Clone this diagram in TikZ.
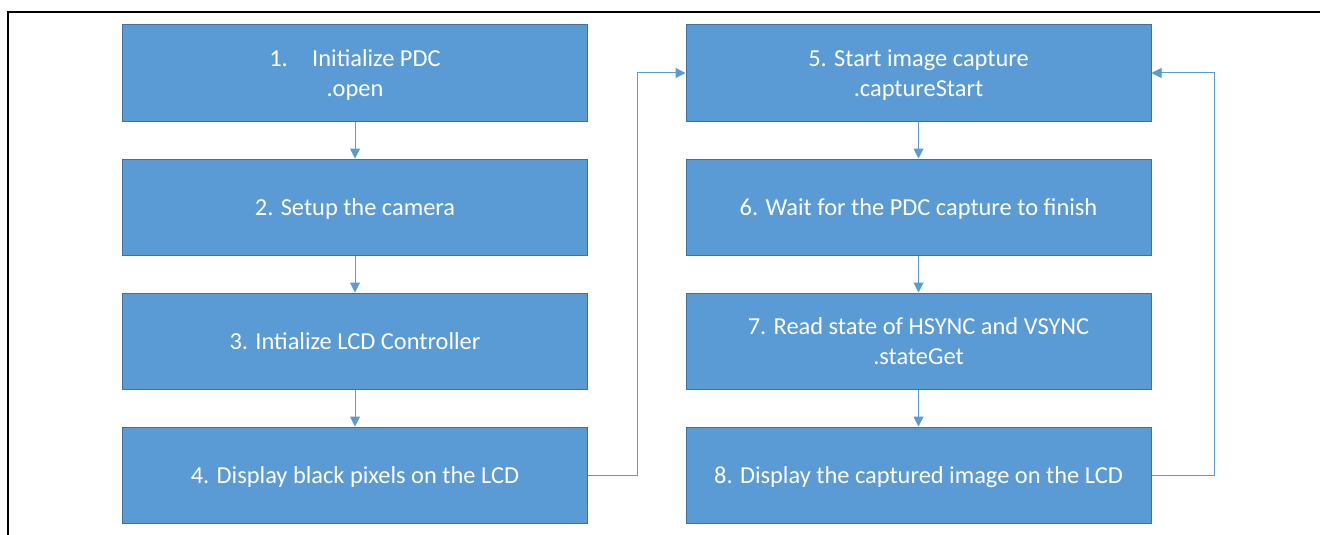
\documentclass[tikz,border=0pt]{standalone}
\usepackage{fontspec}
\setmainfont{Carlito}
\usetikzlibrary{arrows.meta}
\definecolor{officeblue}{HTML}{5B9BD5}
\definecolor{officeedge}{HTML}{41719C}
\tikzset{
  stepbox/.style={draw=officeedge, line width=0.75pt, fill=officeblue, text=white,
    minimum width=348.75pt, minimum height=72pt, inner sep=0pt, text depth=0pt,
    align=center, font=\labelfontsize},
  flowarrow/.style={draw=officeblue, line width=0.75pt, -{Triangle[length=7.5pt,width=7.5pt]}}
}
\begin{document}
\begin{tikzpicture}[x=0.75pt, y=-0.75pt]
\def\labelfontsize{\fontsize{18.3}{22}\selectfont}
\def\leftx{355}
\def\rightx{918.5}
\useasboundingbox (0, 0) rectangle (1320, 535);
\draw[line width=1.5pt] (8, 535) -- (8, 12) -- (1320, 12); % frame

\begin{scope} % LEFT COLUMN
\node [stepbox] (init) at (\leftx, 73) {1.\hspace{1em}Initialize PDC\\.open};
\node [stepbox] (camera) at (\leftx, 207) {2. Setup the camera};
\node [stepbox] (lcd) at (\leftx, 341) {3. Intialize LCD Controller};
\node [stepbox] (black) at (\leftx, 475) {4. Display black pixels on the LCD};
\end{scope}

\begin{scope} % RIGHT COLUMN
\node [stepbox] (start) at (\rightx, 73) {5. Start image capture\\.captureStart};
\node [stepbox] (wait) at (\rightx, 207) {6. Wait for the PDC capture to finish};
\node [stepbox] (state) at (\rightx, 341) {7. Read state of HSYNC and VSYNC\\.stateGet};
\node [stepbox] (show) at (\rightx, 475) {8. Display the captured image on the LCD};
\end{scope}

\coordinate (midx) at (637, 0);
\coordinate (loopx) at (1214, 0);

\draw [flowarrow] (init) -- (camera);
\draw [flowarrow] (camera) -- (lcd);
\draw [flowarrow] (lcd) -- (black);
\draw [flowarrow] (black.east) -| (midx |- start.west) -- (start.west);
\draw [flowarrow] (start) -- (wait);
\draw [flowarrow] (wait) -- (state);
\draw [flowarrow] (state) -- (show);
\draw [flowarrow] (show.east) -| (loopx |- start.east) -- (start.east);
\end{tikzpicture}
\end{document}
